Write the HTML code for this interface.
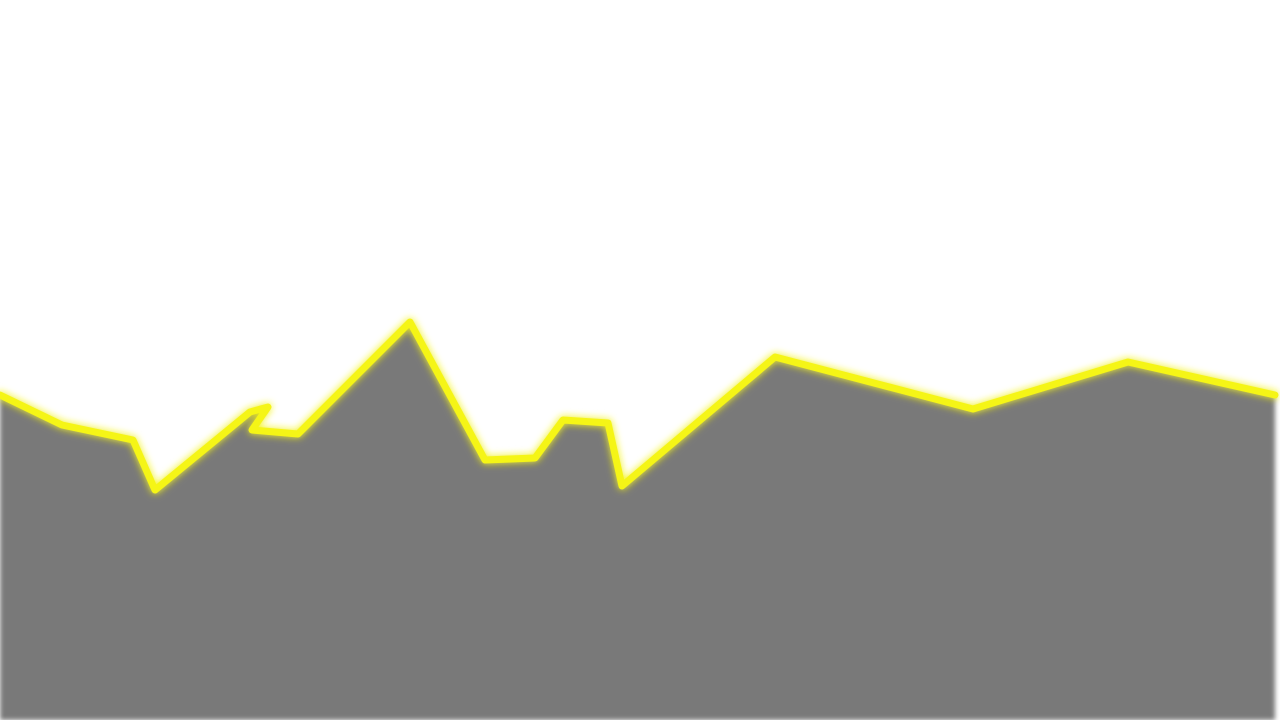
<!DOCTYPE html>
<html><head><meta charset="utf-8"><style>
html,body{margin:0;padding:0;background:#fff;width:1280px;height:720px;overflow:hidden;font-family:"Liberation Sans",sans-serif}
</style></head><body>
<svg id="chart" width="1280" height="720" viewBox="0 0 1280 720">
<defs>
<filter id="shadow" x="-10%" y="-10%" width="120%" height="120%"><feGaussianBlur stdDeviation="2.5"/></filter>
<filter id="glow" x="-10%" y="-10%" width="120%" height="130%"><feGaussianBlur stdDeviation="4" result="b"/><feMerge><feMergeNode in="b"/><feMergeNode in="SourceGraphic"/></feMerge></filter>
</defs>
<g id="plot"></g>
</svg>
<script>
const xValues = [0, 62, 133, 155, 250, 268, 252, 298, 410, 485, 535, 563, 608, 622, 775, 973, 1128, 1275];
const yValues = [325, 295, 280, 230, 308, 313, 290, 286, 398, 260, 262, 300, 297, 234, 363, 311, 358, 325];
const xMin = 0, xMax = 1275, yMin = 0, yMax = 720;
function sx(v){ return 0 + (v - xMin) / (xMax - xMin) * 1275; }
function sy(v){ return 720 - (v - yMin) / (yMax - yMin) * 720; }
const g = document.getElementById('plot');
const ns = 'http://www.w3.org/2000/svg';
let line = '';
xValues.forEach((x, i) => { line += (i ? 'L' : 'M') + sx(x).toFixed(1) + ',' + sy(yValues[i]).toFixed(1); });
const area = line + 'L' + sx(xValues[xValues.length-1]) + ',720L' + sx(xValues[0]) + ',720Z';
const a = document.createElementNS(ns, 'path');
a.setAttribute('d', area);
a.setAttribute('fill', '#797979');
a.setAttribute('filter', 'url(#shadow)');


g.appendChild(a);
const l = document.createElementNS(ns, 'path');
l.setAttribute('d', line);
l.setAttribute('fill', 'none');
l.setAttribute('stroke', '#f5f516');
l.setAttribute('stroke-width', '7');
l.setAttribute('stroke-linejoin', 'round');
l.setAttribute('stroke-linecap', 'round');
l.setAttribute('filter', 'url(#glow)');


g.appendChild(l);
</script>
</body></html>
